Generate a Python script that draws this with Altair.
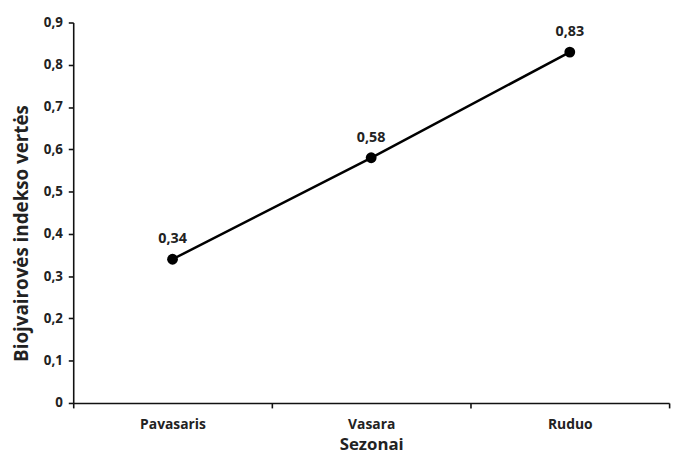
import altair as alt
import pandas as pd

seasons = ["Pavasaris", "Vasara", "Ruduo"]
values = [0.34, 0.58, 0.83]
value_labels = ["0,34", "0,58", "0,83"]

df = pd.DataFrame({"season": seasons, "value": values, "label": value_labels})

FONT = "Open Sans"

x_enc = alt.X(
    "season:N",
    sort=seasons,
    scale=alt.Scale(paddingInner=0, paddingOuter=0),
    axis=alt.Axis(
        title="Sezonai",
        titleFont=FONT,
        titleFontSize=17,
        titleFontWeight="bold",
        titleColor="#222222",
        titlePadding=5,
        labelFont=FONT,
        labelFontSize=14,
        labelFontWeight="bold",
        labelColor="#222222",
        labelAngle=0,
        labelPadding=10,
        tickBand="extent",
        tickSize=5,
        tickColor="#111111",
        domainColor="#111111",
        domainWidth=1.6,
        tickWidth=1.6,
        grid=False,
    ),
)

y_enc = alt.Y(
    "value:Q",
    scale=alt.Scale(domain=[0, 0.9], nice=False),
    axis=alt.Axis(
        title="Biojvairovės indekso vertės",
        titleFont=FONT,
        titleFontSize=19,
        titleFontWeight="bold",
        titleColor="#222222",
        titleBaseline="middle",
        titleX=-52,
        titleY=213,
        values=[0, 0.1, 0.2, 0.3, 0.4, 0.5, 0.6, 0.7, 0.8, 0.9],
        labelExpr="datum.value == 0 ? '0' : replace(format(datum.value, '.1f'), '.', ',')",
        labelFont=FONT,
        labelFontSize=13.5,
        labelFontWeight="bold",
        labelColor="#222222",
        labelPadding=6,
        tickSize=5,
        tickColor="#111111",
        domainColor="#111111",
        domainWidth=1.6,
        tickWidth=1.6,
        grid=False,
    ),
)

base = alt.Chart(df).encode(x=x_enc, y=y_enc)

line = base.mark_line(color="black", strokeWidth=2.5)
points = base.mark_point(filled=True, color="black", size=120, opacity=1)
labels = base.mark_text(
    dy=-20, font=FONT, fontSize=14.5, fontWeight="bold", color="#222222"
).encode(text="label:N")

chart = (
    (line + points + labels)
    .properties(
        width=603,
        height=385,
        autosize=alt.AutoSizeParams(type="none"),
        padding={"left": 66, "top": 12, "right": 10, "bottom": 52},
        background="white",
    )
    .configure_view(stroke=None)
)

chart.save("out.html", embed_options={"renderer": "svg", "actions": False})
